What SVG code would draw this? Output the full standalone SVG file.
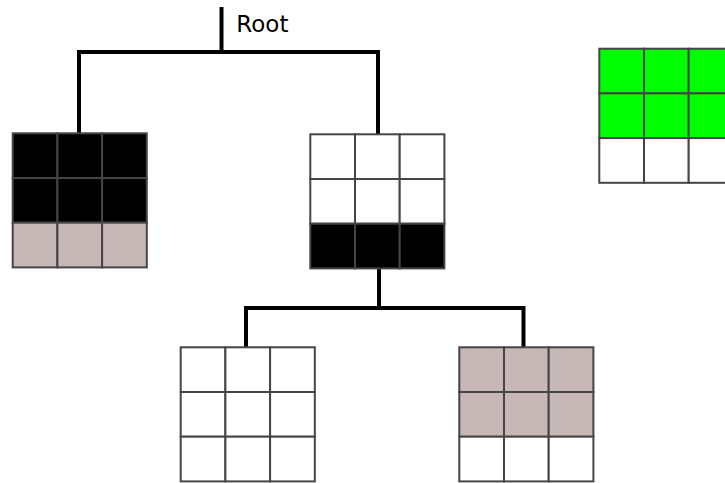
<svg xmlns="http://www.w3.org/2000/svg" width="725" height="483" viewBox="0 0 725 483">
  <defs>
    <style>
      .cell { stroke: #454545; stroke-width: 2; }
      .w { fill: #ffffff; }
      .k { fill: #000000; }
      .p { fill: #c8b7b7; }
      .g { fill: #00ff00; }
      .edge { fill: none; stroke: #000; stroke-width: 4; stroke-linejoin: miter; stroke-linecap: butt; }
      .label { font-family: "DejaVu Sans", sans-serif; font-size: 23px; fill: #000; }
    </style>
  </defs>
  <rect width="725" height="483" fill="#ffffff"/>

  <!-- connectors -->
  <g id="connectors">
    <path class="edge" d="M221.5 7 V52 M79 52 H378 M79 50 V133 M378 50 V134"/>
    <path class="edge" d="M379 268 V308 M246 308 H523.5 M246 306 V347 M523.5 306 V347"/>
  </g>

  <!-- root label -->
  <g id="root">
    <text class="label" x="236.3" y="31.7">Root</text>
  </g>

  <!-- left child: two black rows, one pink row -->
  <g id="node-left" transform="translate(12.7 133.3)">
    <rect class="cell k" x="0" y="0" width="44.7" height="44.7"/>
    <rect class="cell k" x="44.7" y="0" width="44.7" height="44.7"/>
    <rect class="cell k" x="89.4" y="0" width="44.7" height="44.7"/>
    <rect class="cell k" x="0" y="44.7" width="44.7" height="44.7"/>
    <rect class="cell k" x="44.7" y="44.7" width="44.7" height="44.7"/>
    <rect class="cell k" x="89.4" y="44.7" width="44.7" height="44.7"/>
    <rect class="cell p" x="0" y="89.4" width="44.7" height="44.7"/>
    <rect class="cell p" x="44.7" y="89.4" width="44.7" height="44.7"/>
    <rect class="cell p" x="89.4" y="89.4" width="44.7" height="44.7"/>
  </g>

  <!-- middle child: two white rows, one black row -->
  <g id="node-middle" transform="translate(310.3 134.3)">
    <rect class="cell w" x="0" y="0" width="44.7" height="44.7"/>
    <rect class="cell w" x="44.7" y="0" width="44.7" height="44.7"/>
    <rect class="cell w" x="89.4" y="0" width="44.7" height="44.7"/>
    <rect class="cell w" x="0" y="44.7" width="44.7" height="44.7"/>
    <rect class="cell w" x="44.7" y="44.7" width="44.7" height="44.7"/>
    <rect class="cell w" x="89.4" y="44.7" width="44.7" height="44.7"/>
    <rect class="cell k" x="0" y="89.4" width="44.7" height="44.7"/>
    <rect class="cell k" x="44.7" y="89.4" width="44.7" height="44.7"/>
    <rect class="cell k" x="89.4" y="89.4" width="44.7" height="44.7"/>
  </g>

  <!-- green grid, cut off at the right edge -->
  <g id="node-green" transform="translate(599.3 48.7)">
    <rect class="cell g" x="0" y="0" width="44.7" height="44.7"/>
    <rect class="cell g" x="44.7" y="0" width="44.7" height="44.7"/>
    <rect class="cell g" x="89.4" y="0" width="44.7" height="44.7"/>
    <rect class="cell g" x="0" y="44.7" width="44.7" height="44.7"/>
    <rect class="cell g" x="44.7" y="44.7" width="44.7" height="44.7"/>
    <rect class="cell g" x="89.4" y="44.7" width="44.7" height="44.7"/>
    <rect class="cell w" x="0" y="89.4" width="44.7" height="44.7"/>
    <rect class="cell w" x="44.7" y="89.4" width="44.7" height="44.7"/>
    <rect class="cell w" x="89.4" y="89.4" width="44.7" height="44.7"/>
  </g>

  <!-- bottom-left: all white -->
  <g id="node-bottom-left" transform="translate(180.7 347.3)">
    <rect class="cell w" x="0" y="0" width="44.7" height="44.7"/>
    <rect class="cell w" x="44.7" y="0" width="44.7" height="44.7"/>
    <rect class="cell w" x="89.4" y="0" width="44.7" height="44.7"/>
    <rect class="cell w" x="0" y="44.7" width="44.7" height="44.7"/>
    <rect class="cell w" x="44.7" y="44.7" width="44.7" height="44.7"/>
    <rect class="cell w" x="89.4" y="44.7" width="44.7" height="44.7"/>
    <rect class="cell w" x="0" y="89.4" width="44.7" height="44.7"/>
    <rect class="cell w" x="44.7" y="89.4" width="44.7" height="44.7"/>
    <rect class="cell w" x="89.4" y="89.4" width="44.7" height="44.7"/>
  </g>

  <!-- bottom-right: two pink rows, one white row -->
  <g id="node-bottom-right" transform="translate(459.3 347.3)">
    <rect class="cell p" x="0" y="0" width="44.7" height="44.7"/>
    <rect class="cell p" x="44.7" y="0" width="44.7" height="44.7"/>
    <rect class="cell p" x="89.4" y="0" width="44.7" height="44.7"/>
    <rect class="cell p" x="0" y="44.7" width="44.7" height="44.7"/>
    <rect class="cell p" x="44.7" y="44.7" width="44.7" height="44.7"/>
    <rect class="cell p" x="89.4" y="44.7" width="44.7" height="44.7"/>
    <rect class="cell w" x="0" y="89.4" width="44.7" height="44.7"/>
    <rect class="cell w" x="44.7" y="89.4" width="44.7" height="44.7"/>
    <rect class="cell w" x="89.4" y="89.4" width="44.7" height="44.7"/>
  </g>
</svg>
